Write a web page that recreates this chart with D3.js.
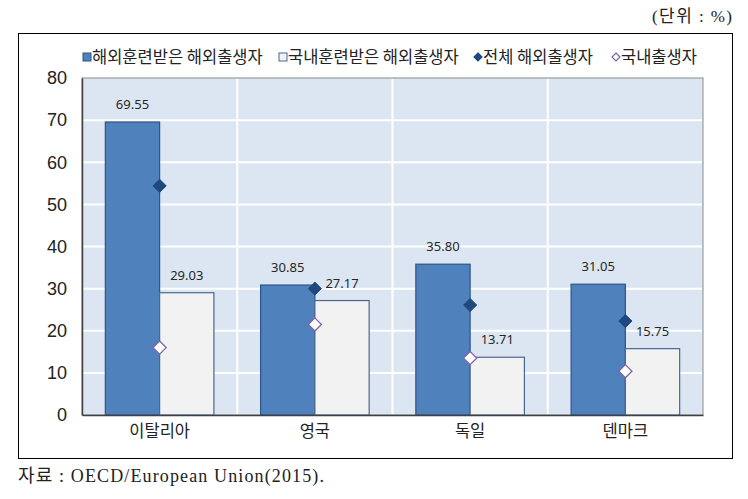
<!DOCTYPE html>
<html>
<head>
<meta charset="utf-8">
<script src="https://cdn.jsdelivr.net/npm/d3@7"></script>
<style>
  body { margin: 0; background: #fff; }
  svg text { fill: #222; }
</style>
</head>
<body>
<script>
// values
var countries = ["이탈리아", "영국", "독일", "덴마크"];
var seriesNames = ["해외훈련받은 해외출생자", "국내훈련받은 해외출생자", "전체 해외출생자", "국내출생자"];
var trainedAbroad = [69.55, 30.85, 35.80, 31.05];
var trainedHome = [29.03, 27.17, 13.71, 15.75];
var allForeignBorn = [54.4, 30.0, 26.1, 22.3];
var nativeBorn = [16.0, 21.5, 13.5, 10.4];
var yTicks = [0, 10, 20, 30, 40, 50, 60, 70, 80];

var W = 748, H = 499;
var margin = {top: 78, right: 45, bottom: 84, left: 82};
var width = W - margin.left - margin.right;
var height = H - margin.top - margin.bottom;

var krFont = "'Noto Sans CJK KR', 'Noto Sans', sans-serif";
var serifFont = "'Liberation Serif', 'DejaVu Serif', 'Noto Sans CJK KR', serif";

var svg = d3.select("body").append("svg")
    .attr("width", W)
    .attr("height", H);

// outer frame
svg.append("rect")
    .attr("x", 18.5).attr("y", 33.5)
    .attr("width", 714).attr("height", 425)
    .attr("fill", "none")
    .attr("stroke", "#000")
    .attr("stroke-width", 1);

svg.append("text")
    .attr("x", 652).attr("y", 22)
    .attr("textLength", 80)
    .attr("lengthAdjust", "spacing")
    .style("font-family", serifFont)
    .style("font-size", "17px")
    .text("(단위 : %)");

svg.append("text")
    .attr("x", 18).attr("y", 482)
    .attr("textLength", 306)
    .attr("lengthAdjust", "spacing")
    .style("font-family", serifFont)
    .style("font-size", "18px")
    .text("자료 : OECD/European Union(2015).");

var g = svg.append("g")
    .attr("transform", "translate(" + margin.left + "," + margin.top + ")");

var x0 = d3.scaleBand().domain(countries).range([0, width]).padding(0);
var x1 = d3.scaleBand().domain([0, 1]).range([0, x0.bandwidth()])
    .paddingInner(0).paddingOuter(0.43);
var y = d3.scaleLinear().domain([0, 80]).range([height, 0]);

// plot background
g.append("rect")
    .attr("width", width).attr("height", height)
    .attr("fill", "#dce6f2")
    .attr("stroke", "#8c8c8c")
    .attr("stroke-width", 1);

// horizontal grid
g.selectAll(".hgrid")
    .data(yTicks.slice(1, -1))
    .enter().append("line")
    .attr("class", "hgrid")
    .attr("x1", 1).attr("x2", width - 1)
    .attr("y1", function(d) { return y(d); })
    .attr("y2", function(d) { return y(d); })
    .attr("stroke", "#fff")
    .attr("stroke-width", 2);

// vertical grid between categories
g.selectAll(".vgrid")
    .data(countries.slice(1))
    .enter().append("line")
    .attr("class", "vgrid")
    .attr("x1", function(d) { return x0(d); })
    .attr("x2", function(d) { return x0(d); })
    .attr("y1", 1).attr("y2", height - 1)
    .attr("stroke", "#fff")
    .attr("stroke-width", 2);

var barData = [];
countries.forEach(function(c, i) {
    barData.push({c: c, s: 0, v: trainedAbroad[i]});
    barData.push({c: c, s: 1, v: trainedHome[i]});
});

g.selectAll(".bar")
    .data(barData)
    .enter().append("rect")
    .attr("class", "bar")
    .attr("x", function(d) { return x0(d.c) + x1(d.s); })
    .attr("y", function(d) { return y(d.v); })
    .attr("width", x1.bandwidth())
    .attr("height", function(d) { return height - y(d.v); })
    .attr("fill", function(d) { return d.s === 0 ? "#4f81bd" : "#f2f2f2"; })
    .attr("stroke", function(d) { return d.s === 0 ? "#2f5488" : "#4a6794"; })
    .attr("stroke-width", 1.2);

g.selectAll(".val")
    .data(barData)
    .enter().append("text")
    .attr("class", "val")
    .attr("x", function(d) { return x0(d.c) + x1(d.s) + x1.bandwidth() / 2; })
    .attr("y", function(d) { return y(d.v) - 13; })
    .attr("text-anchor", "middle")
    .style("font-family", "'Noto Sans', sans-serif")
    .style("font-size", "13px")
    .style("fill", "#262626")
    .text(function(d) { return d.v.toFixed(2); });

// diamond markers at category center
var diamond = d3.symbol().type(d3.symbolDiamond2).size(110);

g.selectAll(".mkAll")
    .data(allForeignBorn)
    .enter().append("path")
    .attr("class", "mkAll")
    .attr("d", diamond)
    .attr("transform", function(d, i) {
        return "translate(" + (x0(countries[i]) + x0.bandwidth() / 2) + "," + y(d) + ")";
    })
    .attr("fill", "#1f497d")
    .attr("stroke", "#1f497d")
    .attr("stroke-width", 1);

g.selectAll(".mkNat")
    .data(nativeBorn)
    .enter().append("path")
    .attr("class", "mkNat")
    .attr("d", diamond)
    .attr("transform", function(d, i) {
        return "translate(" + (x0(countries[i]) + x0.bandwidth() / 2) + "," + y(d) + ")";
    })
    .attr("fill", "#fff")
    .attr("stroke", "#8064a2")
    .attr("stroke-width", 1.3);

// axes
var yAxis = d3.axisLeft(y).tickValues(yTicks).tickSize(0).tickPadding(15);
var yg = g.append("g").call(yAxis);
yg.select(".domain").attr("stroke", "#404040").attr("stroke-width", 1.5);
yg.selectAll("text")
    .style("font-family", "'Liberation Sans Narrow', 'Liberation Sans', Arial, sans-serif")
    .style("font-size", "18px")
    .style("fill", "#222");

var xAxis = d3.axisBottom(x0).tickSize(0).tickPadding(10);
var xg = g.append("g").attr("transform", "translate(0," + height + ")").call(xAxis);
xg.select(".domain").attr("stroke", "#404040").attr("stroke-width", 1.5);
xg.selectAll("text")
    .style("font-family", krFont)
    .style("font-size", "16.5px")
    .style("fill", "#222");

// legend
var legendX = [83, 279, 474, 612];
var legend = svg.selectAll(".legend")
    .data(seriesNames)
    .enter().append("g")
    .attr("class", "legend")
    .attr("transform", function(d, i) { return "translate(" + legendX[i] + ",57)"; });

legend.each(function(d, i) {
    var el = d3.select(this);
    if (i < 2) {
        el.append("rect")
            .attr("x", 0).attr("y", -4)
            .attr("width", 8).attr("height", 8)
            .attr("fill", i === 0 ? "#4f81bd" : "#f2f2f2")
            .attr("stroke", i === 0 ? "#2f5488" : "#4a6794");
    } else {
        el.append("path")
            .attr("d", d3.symbol().type(d3.symbolDiamond2).size(40))
            .attr("transform", "translate(4,0)")
            .attr("fill", i === 2 ? "#1f497d" : "#fff")
            .attr("stroke", i === 2 ? "#1f497d" : "#8064a2")
            .attr("stroke-width", 1.2);
    }
    el.append("text")
        .attr("x", 9).attr("y", 0)
        .attr("dy", "0.35em")
        .style("font-family", krFont)
        .style("font-size", "16.5px")
        .text(d);
});
</script>
</body>
</html>
